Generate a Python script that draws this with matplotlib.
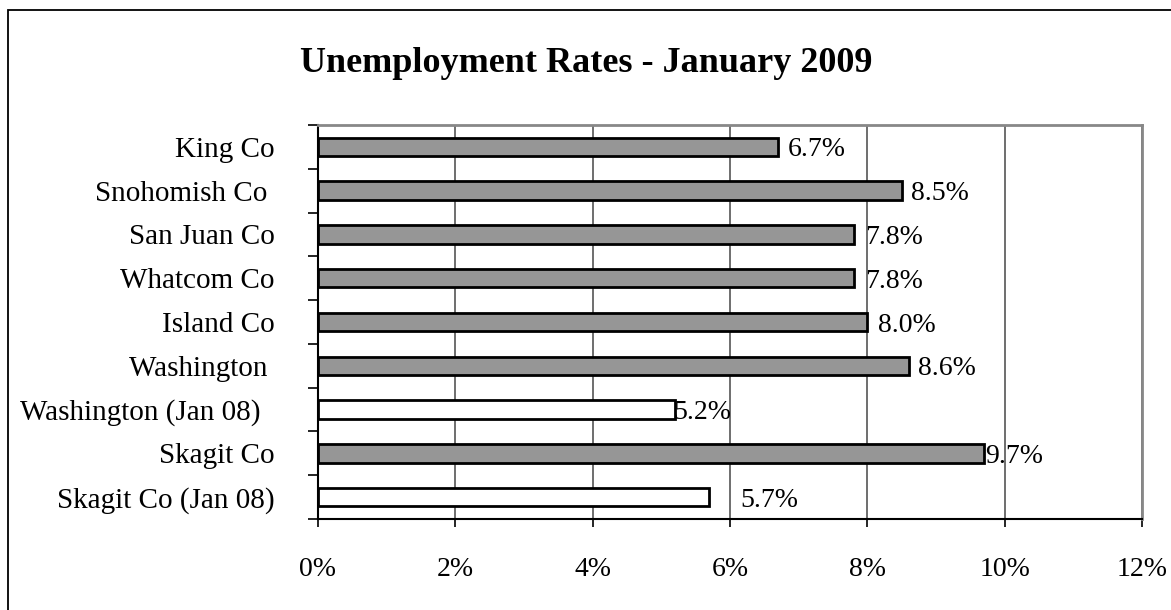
import matplotlib
matplotlib.use("Agg")
import matplotlib.pyplot as plt
from matplotlib.patches import Rectangle
import numpy as np

categories = ["King Co", "Snohomish Co ", "San Juan Co", "Whatcom Co", "Island Co",
              "Washington ", "Washington (Jan 08)  ", "Skagit Co", "Skagit Co (Jan 08)"]
values = [6.7, 8.5, 7.8, 7.8, 8.0, 8.6, 5.2, 9.7, 5.7]
is_prior_year = [False, False, False, False, False, False, True, False, True]
x_ticks = [0, 2, 4, 6, 8, 10, 12]
x_tick_labels = ["0%", "2%", "4%", "6%", "8%", "10%", "12%"]
title = "Unemployment Rates - January 2009"

# label offsets in points (positioning only)
label_offsets = [7, 7, 8, 8, 8, 7, -1, 1, 22]

plt.rcParams['font.family'] = ['Liberation Serif', 'DejaVu Serif']

W, H, DPI = 1171, 610, 100
fig = plt.figure(figsize=(W / DPI, H / DPI), dpi=DPI)

# outer chart border
fig.patches.append(Rectangle((8 / W, -0.1), 1.2, (H - 10) / H + 0.1,
                             transform=fig.transFigure, fill=False,
                             edgecolor="black", linewidth=1.3))

ax = fig.add_axes([318 / W, (H - 519) / H, 824 / W, 394 / H])

n = len(categories)
y = np.arange(n)
colors = ["white" if p else "#969696" for p in is_prior_year]
ax.barh(y, values, height=0.42, color=colors, edgecolor="black", linewidth=2, zorder=3)

ax.set_ylim(n - 0.5, -0.5)
ax.set_xlim(0, 12)

for yi, v, off in zip(y, values, label_offsets):
    ax.annotate(f"{v:.1f}%", (v, yi), xytext=(off, 0), textcoords="offset points",
                ha="left", va="center_baseline", fontsize=20, zorder=4)

ax.set_yticks(y)
ax.set_yticklabels(categories, fontsize=21)
ax.tick_params(axis="y", which="major", length=0, pad=31)
ax.set_yticks(np.arange(-0.5, n, 1), minor=True)
ax.tick_params(axis="y", which="minor", length=7, width=1.2, direction="out", color="black")

ax.set_xticks(x_ticks)
ax.set_xticklabels(x_tick_labels, fontsize=20)
ax.tick_params(axis="x", length=6, width=1.2, direction="out", pad=21, color="black")

ax.grid(axis="x", color="#555555", linewidth=1.2, zorder=0)
ax.set_axisbelow(True)

for s in ["top", "right"]:
    ax.spines[s].set_color("#888888")
    ax.spines[s].set_linewidth(2)
for s in ["left", "bottom"]:
    ax.spines[s].set_color("black")
    ax.spines[s].set_linewidth(1.5)

fig.text(586 / W, 1 - 63 / H, title, ha="center", va="center",
         fontsize=26, fontweight="bold")

fig.savefig("out.png", dpi=DPI)
